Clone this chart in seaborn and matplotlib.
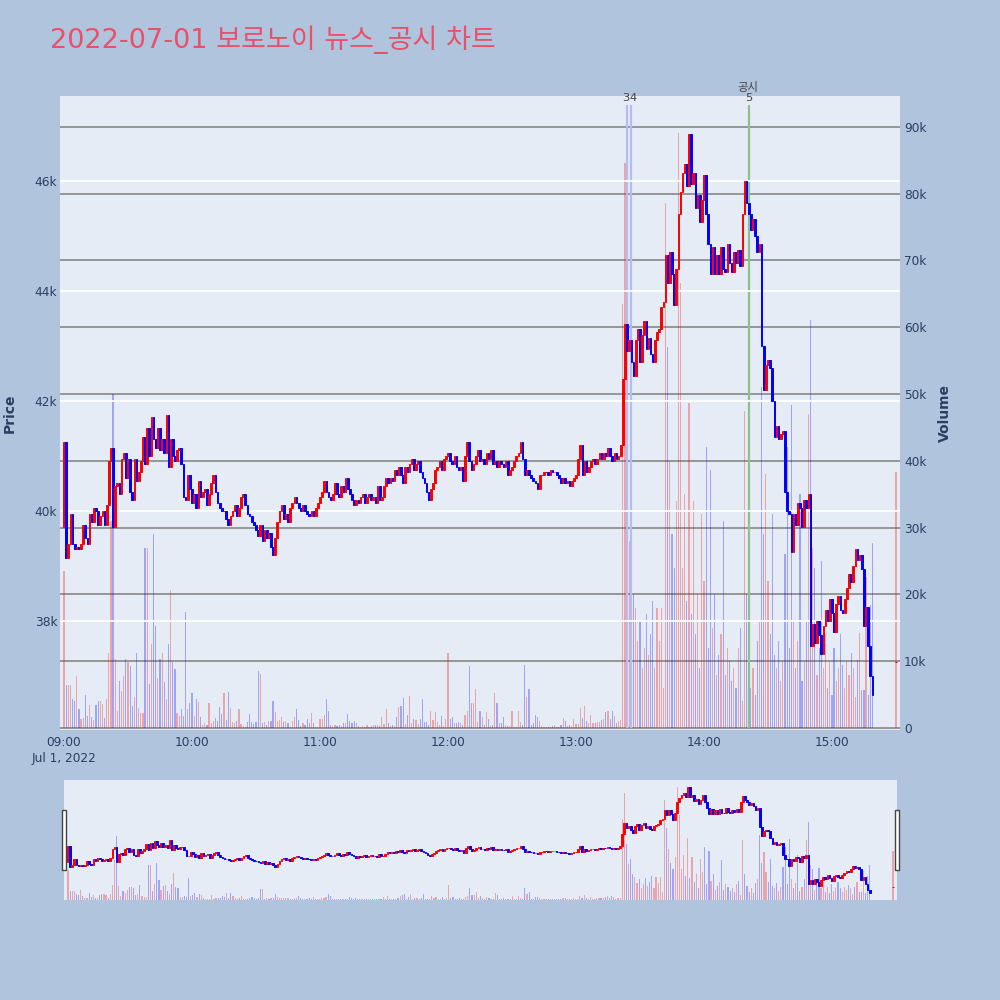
import matplotlib
matplotlib.use("Agg")
import matplotlib.pyplot as plt
import matplotlib.transforms as mtransforms
from matplotlib.patches import Rectangle
from matplotlib.ticker import FuncFormatter
import seaborn as sns
import numpy as np
import pandas as pd

# chart data ----------------------------------------------------------------
title = "2022-07-01 보로노이 뉴스_공시 차트"

# 1-minute closes, 09:00 .. 15:19 (minute index 0..379)
first_open = 39700
close_1m = [
    41250, 39150, 39400, 39950, 39400, 39300, 39350, 39300, 39400, 39750,  # 09:00
    39500, 39400, 39950, 39800, 40050, 40000, 39750, 39900, 40000, 39750,
    40100, 40900, 41150, 39700, 40450, 40500, 40300, 40950, 41050, 40600,
    40950, 40350, 40200, 40950, 40550, 40700, 40900, 41350, 40850, 41500,
    41000, 41700, 41300, 41150, 41500, 41100, 41300, 41050, 41750, 40800,
    41300, 41000, 40900, 41100, 41150, 40850, 40250, 40200, 40650, 40400,
    40150, 40300, 40050, 40550, 40250, 40350, 40400, 40100, 40300, 40500,  # 10:00
    40650, 40350, 40150, 40050, 40000, 40000, 39850, 39750, 39900, 40000,
    40100, 39900, 40050, 40250, 40300, 40100, 39950, 39900, 39800, 39750,
    39650, 39550, 39750, 39450, 39650, 39500, 39600, 39350, 39200, 39500,
    39800, 40000, 40100, 39850, 39950, 39800, 40050, 40150, 40250, 40150,
    40050, 40000, 40100, 40000, 39950, 39900, 40000, 39900, 40050, 40150,
    40250, 40350, 40550, 40350, 40250, 40200, 40300, 40500, 40300, 40250,  # 11:00
    40450, 40350, 40600, 40400, 40300, 40200, 40100, 40200, 40150, 40250,
    40300, 40150, 40250, 40300, 40200, 40250, 40150, 40450, 40200, 40250,
    40450, 40600, 40500, 40600, 40550, 40750, 40650, 40800, 40650, 40500,
    40800, 40700, 40850, 40950, 40750, 40850, 40900, 40700, 40600, 40500,
    40350, 40200, 40400, 40500, 40750, 40800, 40900, 40750, 40950, 41000,
    41050, 40900, 40850, 41000, 40800, 40750, 40800, 40550, 41000, 41250,  # 12:00
    40900, 40750, 40850, 41000, 41100, 40900, 40950, 40850, 41050, 40950,
    41100, 40850, 40900, 40800, 40900, 40850, 40800, 40900, 40650, 40750,
    40800, 40900, 41000, 41050, 41250, 40950, 40650, 40750, 40650, 40600,
    40550, 40500, 40400, 40650, 40650, 40700, 40700, 40650, 40750, 40700,
    40700, 40650, 40600, 40500, 40600, 40500, 40550, 40450, 40550, 40600,
    40650, 40950, 41200, 40650, 40900, 40700, 40800, 40900, 40950, 40850,  # 13:00
    40950, 41050, 40950, 41050, 41000, 41150, 41000, 40900, 41050, 40950,
    41000, 41200, 42400, 43400, 42900, 43100, 42700, 42450, 43100, 43300,
    42700, 43200, 43450, 42950, 43150, 42850, 42700, 43100, 43250, 43300,
    43700, 43800, 44650, 44150, 44700, 44300, 43750, 44400, 45400, 45800,
    46150, 46300, 45900, 46850, 45950, 46150, 45500, 45750, 45250, 45650,
    46100, 45400, 44850, 44300, 44800, 44300, 44650, 44300, 44800, 44400,  # 14:00
    44350, 44850, 44500, 44350, 44700, 44500, 44750, 44450, 45400, 46000,
    45600, 45400, 45100, 45300, 45000, 44700, 44850, 43000, 42200, 42650,
    42750, 42600, 42000, 41350, 41550, 41300, 41400, 41450, 40350, 40000,
    39950, 39250, 39950, 39750, 40150, 40050, 39700, 40200, 40050, 40300,
    37550, 37950, 37600, 38000, 37750, 37400, 37900, 38200, 38000, 38400,
    38150, 37800, 38300, 38450, 38200, 38150, 38400, 38600, 38850, 38700,  # 15:00
    39000, 39300, 39100, 39200, 38950, 37900, 38250, 37550, 37000, 36650,
]

# 1-minute volume in thousands of shares
volume_k = [
    23.5, 6.5, 6.5, 6.5, 4.3, 4.0, 7.8, 2.8, 1.4, 1.5,
    4.9, 1.8, 3.4, 1.6, 1.2, 3.4, 4.1, 4.1, 3.6, 1.5,
    4.4, 11.3, 31.0, 50.0, 10.4, 2.6, 7.1, 5.6, 7.8, 10.3,
    9.9, 9.3, 3.3, 4.7, 11.3, 3.0, 2.3, 2.2, 27.0, 27.0,
    6.6, 12.5, 29.0, 15.2, 7.5, 10.4, 11.3, 6.9, 4.3, 12.5,
    20.7, 9.9, 8.8, 2.2, 1.8, 2.9, 1.8, 17.3, 2.8, 3.7,
    5.2, 1.8, 4.3, 3.9, 1.6, 0.5, 0.8, 0.5, 3.8, 0.8,
    1.0, 1.5, 1.0, 3.2, 2.1, 5.2, 1.2, 5.4, 3.0, 0.9,
    0.8, 1.0, 2.8, 0.6, 0.3, 0.2, 0.9, 2.1, 0.9, 0.6,
    0.9, 8.5, 8.1, 0.8, 0.9, 0.5, 1.0, 1.0, 4.1, 2.4,
    1.0, 1.2, 1.6, 0.9, 1.0, 0.8, 0.2, 1.0, 1.6, 2.8,
    1.2, 0.3, 0.7, 0.5, 1.4, 0.8, 2.3, 0.8, 0.2, 0.2,
    1.3, 1.4, 1.9, 4.3, 2.6, 0.4, 0.3, 0.4, 0.3, 0.5,
    0.35, 0.8, 0.8, 2.1, 1.0, 0.8, 1.1, 0.8, 0.3, 0.2,
    0.35, 0.2, 0.5, 0.2, 0.3, 0.5, 0.5, 0.5, 0.35, 1.7,
    0.6, 2.8, 0.7, 0.3, 0.5, 0.35, 1.6, 3.1, 3.3, 4.5,
    0.6, 1.9, 4.8, 0.8, 1.4, 1.2, 0.6, 1.4, 4.4, 0.85,
    0.85, 0.45, 2.5, 1.2, 2.4, 0.85, 0.5, 1.8, 0.35, 1.3,
    11.3, 1.4, 1.7, 0.8, 0.8, 0.9, 0.8, 0.45, 1.9, 2.6,
    9.3, 3.8, 3.8, 5.8, 0.9, 2.6, 1.6, 0.4, 2.4, 1.4,
    0.35, 0.4, 5.3, 3.7, 0.8, 0.7, 1.6, 0.4, 0.35, 0.3,
    2.5, 0.2, 0.2, 2.6, 0.9, 0.4, 9.5, 4.7, 5.9, 0.5,
    0.8, 1.9, 1.7, 1.1, 0.3, 0.2, 0.15, 0.2, 0.15, 0.3,
    0.5, 0.2, 0.15, 0.5, 1.5, 1.1, 0.35, 0.5, 0.3, 1.3,
    0.6, 0.6, 3.0, 1.5, 3.3, 1.1, 0.8, 2.0, 0.7, 0.8,
    0.9, 0.9, 1.2, 1.3, 2.4, 2.5, 1.4, 2.5, 1.8, 0.8,
    1.0, 1.2, 63.5, 84.5, 44.0, 28.0, 32.0, 20.0, 18.0, 13.0,
    16.0, 9.0, 12.0, 17.0, 11.0, 14.0, 19.0, 9.0, 18.0, 13.0,
    18.0, 6.0, 78.6, 57.0, 40.0, 29.0, 24.0, 34.0, 89.0, 66.6,
    24.0, 35.0, 19.0, 48.6, 17.0, 34.0, 14.0, 20.0, 9.0, 32.0,
    22.0, 42.0, 12.0, 38.6, 15.0, 20.0, 8.0, 11.0, 14.0, 31.0,
    8.0, 12.0, 10.0, 7.0, 9.0, 6.0, 12.0, 15.0, 4.0, 47.5,
    20.0, 11.0, 6.0, 9.0, 5.0, 13.0, 16.0, 51.0, 29.0, 38.0,
    22.0, 14.0, 32.0, 11.0, 9.0, 13.0, 7.0, 10.0, 26.0, 42.0,
    12.0, 48.3, 16.0, 9.0, 13.0, 35.0, 7.0, 10.0, 16.0, 47.0,
    61.0, 27.0, 24.0, 8.0, 12.0, 25.0, 9.0, 14.0, 6.0, 10.0,
    5.0, 12.0, 7.0, 9.0, 14.0, 9.4, 6.0, 10.0, 8.0, 11.2,
    9.0, 4.6, 10.2, 14.2, 5.7, 5.7, 22.6, 5.0, 18.4, 27.7,
]

# 15:30 closing auction
auction_minute = 390
auction_price = 37250
auction_volume_k = 38.3

# news / disclosure markers
news_minutes = [264, 266, 321]
news_labels = ["3", "4", "5"]
news_kinds = ["news", "news", "공시"]

tick_minutes = [0, 60, 120, 180, 240, 300, 360]
tick_labels = ["09:00\nJul 1, 2022", "10:00", "11:00", "12:00", "13:00", "14:00", "15:00"]

assert len(close_1m) == 380 and len(volume_k) == 380

# build the table -------------------------------------------------------------
minutes = list(range(380)) + [auction_minute]
closes = close_1m + [auction_price]
opens = [first_open] + close_1m[:-1] + [auction_price]
df = pd.DataFrame({"minute": minutes, "open": opens, "close": closes,
                   "volume": volume_k + [auction_volume_k]})
df["dir"] = np.where(df["close"] >= df["open"], "up", "down")
df["bottom"] = df[["open", "close"]].min(axis=1)
df["height"] = (df["close"] - df["open"]).abs()

BG = "#b0c4de"
PLOT_BG = "#e5ecf6"
TXT = "#2a3f5f"
XLIM = (-1.875, 391.9)
PRICE_LIM = (36018, 47545)
VOL_LIM = (-0.3, 94.6)

sns.set_theme(style="white")
plt.rcParams["font.family"] = ["DejaVu Sans", "Noto Sans CJK KR"]

fig = plt.figure(figsize=(10, 10), dpi=100, facecolor=BG)


def draw_chart(ax, lw):
    sns.histplot(data=df, x="minute", weights="volume", hue="dir", discrete=True,
                 shrink=0.55, palette={"up": "#ff0000", "down": "#0000ff"},
                 alpha=0.3, linewidth=0, legend=False, ax=ax)
    ax.set_xlim(*XLIM)
    ax.set_ylim(*VOL_LIM)
    axp = ax.twinx()
    colors = np.where(df["dir"] == "up", "#ff0000", "#0000ff")
    axp.bar(df["minute"], df["height"], bottom=df["bottom"], width=0.8,
            color=colors, edgecolor=colors, linewidth=lw, zorder=3)
    axp.set_ylim(*PRICE_LIM)
    axp.set_xlim(*XLIM)
    return axp


# main panel -----------------------------------------------------------------
ax = fig.add_axes([0.06, 0.27, 0.84, 0.634], facecolor=PLOT_BG)
axp = draw_chart(ax, 0.7)

ax.grid(axis="y", color="#8f8f8f", linewidth=1.3)
ax.grid(axis="x", visible=False)
axp.grid(axis="y", color="white", linewidth=1.3)
axp.grid(axis="x", visible=False)
for a in (ax, axp):
    for s in a.spines.values():
        s.set_visible(False)
    a.set_xlabel("")
    a.set_ylabel("")

ax.set_yticks(np.arange(0, 100, 10))
ax.yaxis.set_major_formatter(FuncFormatter(lambda v, p: "0" if v == 0 else f"{int(v)}k"))
ax.yaxis.tick_right()
ax.tick_params(axis="y", length=0, pad=3, labelsize=8.7, labelcolor=TXT)
axp.set_yticks([38000, 40000, 42000, 44000, 46000])
axp.yaxis.set_major_formatter(FuncFormatter(lambda v, p: f"{int(v / 1000)}k"))
axp.yaxis.tick_left()
axp.tick_params(axis="y", length=0, pad=2, labelsize=8.7, labelcolor=TXT)
ax.set_xticks(tick_minutes)
ax.set_xticklabels(tick_labels, linespacing=1.35)
ax.tick_params(axis="x", length=0, pad=4, labelsize=8.7, labelcolor=TXT)
axp.tick_params(axis="x", length=0, labelbottom=False)

# news lines and labels
line_colors = {"news": "#b3bdf2", "공시": "#8cc08c"}
label_shift = {"3": -0.8, "4": 0.6, "5": 0.0}
trans = mtransforms.blended_transform_factory(ax.transData, ax.transAxes)
for m, lab, kind in zip(news_minutes, news_labels, news_kinds):
    ax.vlines(m, 0, 93.3, color=line_colors[kind], linewidth=1.6, zorder=2)
    ax.text(m + label_shift[lab], 0.997, lab, transform=trans, ha="center", va="center",
            fontsize=8.2, color="#444444", zorder=5)
    if kind == "공시":
        ax.text(m - 0.5, 1.013, "공시", transform=trans, ha="center", va="center",
                fontsize=8.2, color="#444444", zorder=5,
                family=["Noto Sans CJK KR", "DejaVu Sans"])

fig.text(0.01, 0.587, "Price", rotation=90, ha="center", va="center",
         fontsize=10, fontweight="bold", color=TXT)
fig.text(0.945, 0.587, "Volume", rotation=90, ha="center", va="center",
         fontsize=10, fontweight="bold", color=TXT)
fig.text(0.05, 0.96, title, ha="left", va="center", fontsize=19.5, color="#e8516a",
         family=["DejaVu Sans", "Noto Sans CJK KR"])

# range slider ---------------------------------------------------------------
axs = fig.add_axes([0.064, 0.10, 0.833, 0.12], facecolor=PLOT_BG)
axs_p = draw_chart(axs, 0.7)
axs_p.set_axis_off()
axs.set_xticks([])
axs.set_yticks([])
axs.set_xlabel("")
axs.set_ylabel("")
for s in axs.spines.values():
    s.set_visible(False)
for hx in (0.062, 0.895):
    fig.add_artist(Rectangle((hx, 0.13), 0.0035, 0.06, transform=fig.transFigure,
                             facecolor="white", edgecolor="#444444", linewidth=1))

fig.savefig("out.png", dpi=100, facecolor=BG)
